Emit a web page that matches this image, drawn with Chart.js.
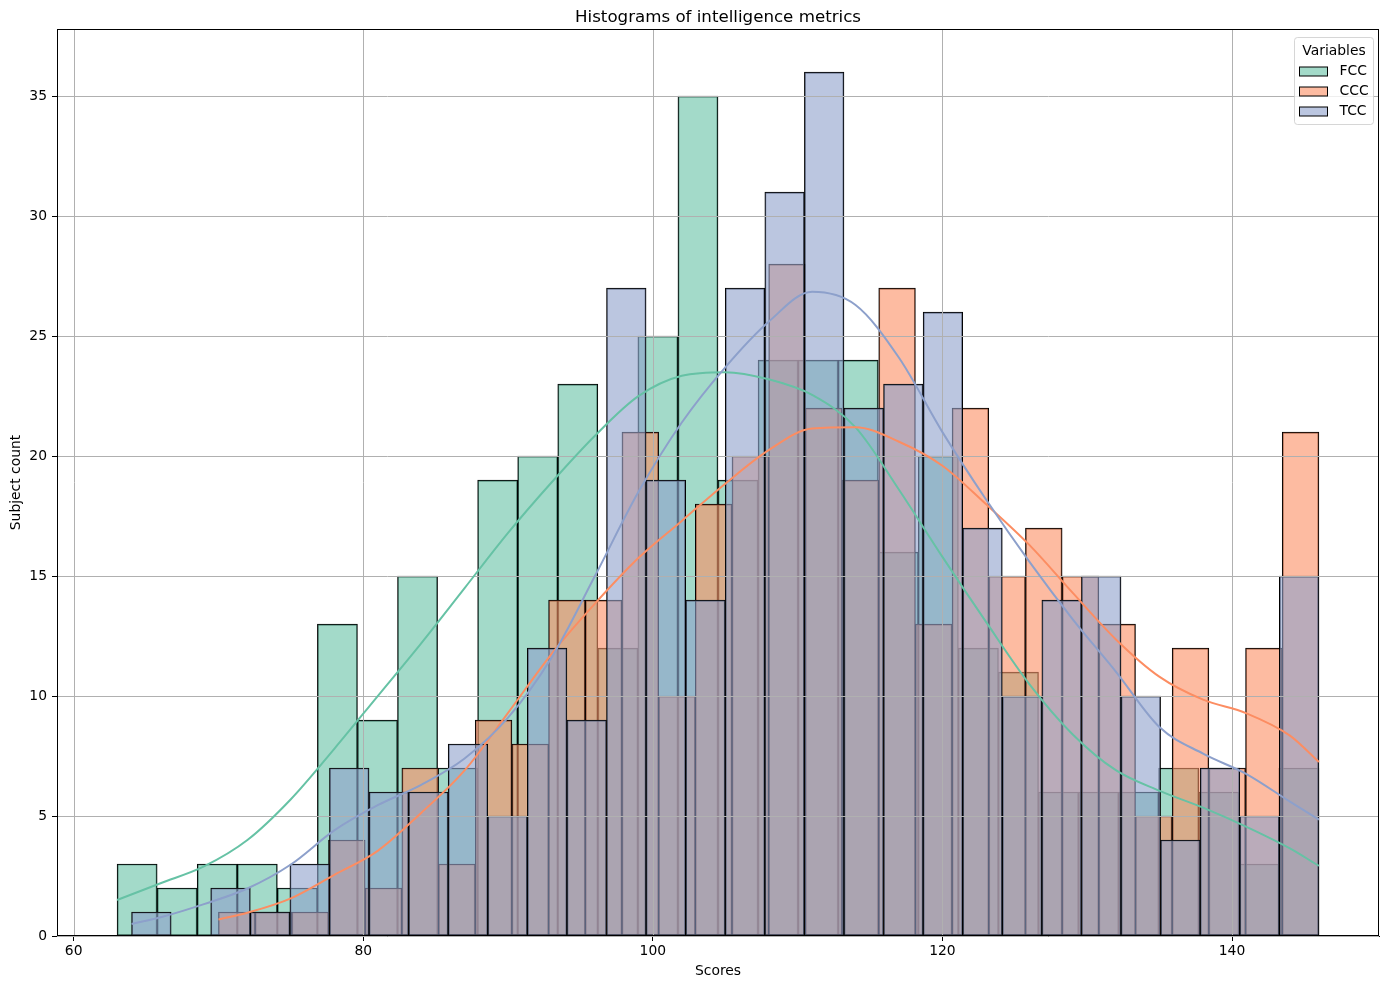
<!DOCTYPE html>
<html>
<head>
<meta charset="utf-8">
<title>Histograms of intelligence metrics</title>
<script src="https://cdn.jsdelivr.net/npm/chart.js@4.4.0/dist/chart.umd.min.js"></script>
<style>
  html, body { margin: 0; padding: 0; background: #fff; }
  #wrap { width: 1389px; height: 989px; }
</style>
</head>
<body>
<div id="wrap"><canvas id="histChart" width="1389" height="989"></canvas></div>
<script>
const variables = ['FCC', 'CCC', 'TCC'];

// histogram bins : first edge, last edge, then the 30 counts of each variable
const fccRange = [63, 146];
const cccRange = [70, 146];
const tccRange = [64, 146];

const fccCounts = [3, 2, 3, 3, 2, 13, 9, 15, 7, 19, 20, 23, 12, 25, 35, 19, 24, 24, 24, 16, 20, 12, 11, 6, 6, 6, 7, 6, 3, 7];
const cccCounts = [1, 1, 1, 4, 2, 7, 3, 9, 8, 14, 14, 21, 10, 18, 20, 28, 22, 19, 27, 13, 22, 15, 17, 15, 13, 5, 12, 7, 12, 21];
const tccCounts = [1, 0, 2, 1, 3, 7, 6, 6, 8, 5, 12, 9, 27, 19, 14, 27, 31, 36, 22, 23, 26, 17, 10, 14, 15, 10, 4, 7, 5, 15];

// kde curves
const fccKdeX = [63, 66, 69, 72, 75, 78, 81, 84, 87, 90, 93, 96, 99, 102, 105, 108, 111, 114, 117, 120, 123, 126, 129, 132, 135, 138, 141, 144, 146];
const fccKdeY = [1.5, 2.2, 2.9, 4.0, 5.7, 7.8, 10.0, 12.2, 14.5, 16.8, 18.9, 20.85, 22.5, 23.35, 23.5, 23.2, 22.55, 21.2, 18.6, 15.8, 13.1, 10.5, 8.4, 6.9, 6.05, 5.35, 4.55, 3.65, 2.92];

const cccKdeX = [70, 72, 75, 78, 81, 84, 87, 90, 93, 96, 99, 102, 105, 108, 111, 114, 117, 120, 123, 126, 129, 132, 135, 138, 141, 144, 146];
const cccKdeY = [0.69, 0.97, 1.57, 2.55, 3.55, 5.13, 6.9, 9.3, 11.75, 13.85, 15.75, 17.3, 18.85, 20.25, 21.15, 21.2, 20.6, 19.6, 18.0, 16.3, 14.3, 12.35, 10.8, 9.85, 9.28, 8.35, 7.25];

const tccKdeX = [64, 66, 69, 72, 75, 78, 81, 84, 87, 90, 93, 96, 99, 102, 105, 108, 111, 114, 117, 120, 123, 126, 129, 132, 135, 138, 141, 144, 146];
const tccKdeY = [0.5, 0.78, 1.33, 1.98, 2.98, 4.4, 5.45, 6.3, 7.4, 9.1, 11.6, 15.0, 18.5, 21.4, 23.7, 25.6, 26.85, 26.3, 24.1, 21.0, 18.2, 15.6, 13.2, 11.0, 8.7, 7.6, 6.75, 5.6, 4.85];

const xTicks = [60, 80, 100, 120, 140];
const yTicks = [0, 5, 10, 15, 20, 25, 30, 35];

const couleurs = {
    FCC: '102, 194, 165',
    CCC: '252, 141, 98',
    TCC: '141, 160, 203'
};

const X_MIN = 58.85, X_MAX = 150.15, Y_MAX = 37.8;
const FONT = 'DejaVu Sans';

Chart.defaults.font.family = FONT;
Chart.defaults.font.size = 13.89;
Chart.defaults.color = '#000';

// bin centers from the edges, one point per bar
function binPoints(range, counts) {
    const w = (range[1] - range[0]) / counts.length;
    return counts.map((c, i) => ({ x: range[0] + (i + 0.5) * w, y: c }));
}

function kdePoints(xs, ys) {
    return xs.map((x, i) => ({ x: x, y: ys[i] }));
}

function barSet(name, axisId, order, data) {
    return {
        type: 'bar',
        label: name,
        data: data,
        xAxisID: axisId,
        order: order,
        grouped: false,
        backgroundColor: `rgba(${couleurs[name]}, 0.6)`,
        borderColor: '#000',
        borderWidth: 1,
        borderSkipped: false,
        barPercentage: 1,
        categoryPercentage: 1
    };
}

function kdeSet(name, order, data) {
    return {
        type: 'line',
        label: name + ' kde',
        data: data,
        xAxisID: 'x',
        order: order,
        borderColor: `rgb(${couleurs[name]})`,
        borderWidth: 2,
        pointRadius: 0,
        fill: false,
        cubicInterpolationMode: 'monotone'
    };
}

const setTicks = values => scale => {
    scale.ticks = values.map(v => ({ value: v }));
};

function hiddenX() {
    return {
        type: 'linear',
        display: false,
        min: X_MIN,
        max: X_MAX,
        offset: false,
        afterBuildTicks: setTicks(xTicks)
    };
}

// gridlines sit above the bars but under the kde lines, like matplotlib
const gridPlugin = {
    id: 'gridAboveBars',
    afterDatasetDraw(chart, args) {
        if (args.index !== 2) return;
        const { ctx, chartArea: a, scales } = chart;
        ctx.save();
        ctx.strokeStyle = '#b0b0b0';
        ctx.lineWidth = 1;
        ctx.beginPath();
        xTicks.forEach(v => {
            const px = Math.round(scales.x.getPixelForValue(v)) + 0.5;
            ctx.moveTo(px, a.top);
            ctx.lineTo(px, a.bottom);
        });
        yTicks.forEach(v => {
            const py = Math.round(scales.y.getPixelForValue(v)) + 0.5;
            ctx.moveTo(a.left, py);
            ctx.lineTo(a.right, py);
        });
        ctx.stroke();
        ctx.restore();
    }
};

// frame + legend box drawn inside the axes (top right)
const legendPlugin = {
    id: 'frameLegend',
    afterDraw(chart) {
        const { ctx, chartArea: a } = chart;
        ctx.save();
        ctx.strokeStyle = '#000';
        ctx.lineWidth = 1;
        ctx.strokeRect(Math.round(a.left) + 0.5, Math.round(a.top) + 0.5,
            Math.round(a.right - a.left) - 1, Math.round(a.bottom - a.top) - 1);

        const bw = 79, bh = 87;
        const bx = Math.round(a.right) - 6 - bw + 0.5;
        const by = Math.round(a.top) + 8 + 0.5;
        ctx.beginPath();
        ctx.roundRect(bx, by, bw, bh, 3);
        ctx.fillStyle = 'rgba(255, 255, 255, 0.8)';
        ctx.fill();
        ctx.strokeStyle = 'rgba(204, 204, 204, 0.8)';
        ctx.stroke();

        ctx.fillStyle = '#000';
        ctx.font = `13.89px "${FONT}"`;
        ctx.textBaseline = 'middle';
        ctx.textAlign = 'center';
        ctx.fillText('Variables', bx + bw / 2, by + 13.5);

        ctx.textAlign = 'left';
        variables.forEach((name, i) => {
            const cy = by + 34 + i * 20;
            ctx.fillStyle = `rgba(${couleurs[name]}, 0.6)`;
            ctx.fillRect(bx + 5, cy - 4.5, 28, 9);
            ctx.strokeStyle = '#000';
            ctx.strokeRect(bx + 5, cy - 4.5, 28, 9);
            ctx.fillStyle = '#000';
            ctx.fillText(name, bx + 45, cy);
        });
        ctx.restore();
    }
};

const ctx = document.getElementById('histChart').getContext('2d');

new Chart(ctx, {
    type: 'bar',
    data: {
        datasets: [
            barSet('FCC', 'x', 6, binPoints(fccRange, fccCounts)),
            barSet('CCC', 'xCCC', 5, binPoints(cccRange, cccCounts)),
            barSet('TCC', 'xTCC', 4, binPoints(tccRange, tccCounts)),
            kdeSet('FCC', 3, kdePoints(fccKdeX, fccKdeY)),
            kdeSet('CCC', 2, kdePoints(cccKdeX, cccKdeY)),
            kdeSet('TCC', 1, kdePoints(tccKdeX, tccKdeY))
        ]
    },
    options: {
        responsive: false,
        animation: false,
        devicePixelRatio: 1,
        layout: { padding: { left: 0, right: 10, top: 0, bottom: 0 } },
        plugins: {
            legend: { display: false },
            tooltip: { enabled: false },
            title: {
                display: true,
                text: 'Histograms of intelligence metrics',
                fullSize: false,
                font: { family: FONT, size: 16.67, weight: 'normal' },
                color: '#000',
                padding: { top: 8, bottom: 1 }
            }
        },
        scales: {
            x: {
                type: 'linear',
                position: 'bottom',
                min: X_MIN,
                max: X_MAX,
                offset: false,
                afterBuildTicks: setTicks(xTicks),
                afterFit: s => { s.height = 53; },
                ticks: { padding: 2, maxRotation: 0 },
                grid: { drawOnChartArea: false, offset: false, tickLength: 5, tickColor: '#000', tickWidth: 1 },
                border: { color: '#000', width: 1 },
                title: { display: true, text: 'Scores', padding: { top: 0, bottom: 9 } }
            },
            xCCC: hiddenX(),
            xTCC: hiddenX(),
            y: {
                type: 'linear',
                min: 0,
                max: Y_MAX,
                afterBuildTicks: setTicks(yTicks),
                afterFit: s => { s.width = 57; },
                ticks: { padding: 5 },
                grid: { drawOnChartArea: false, tickLength: 5, tickColor: '#000', tickWidth: 1 },
                border: { color: '#000', width: 1 },
                title: { display: true, text: 'Subject count', padding: { top: 8, bottom: 0 } }
            }
        }
    },
    plugins: [gridPlugin, legendPlugin]
});
</script>
</body>
</html>
